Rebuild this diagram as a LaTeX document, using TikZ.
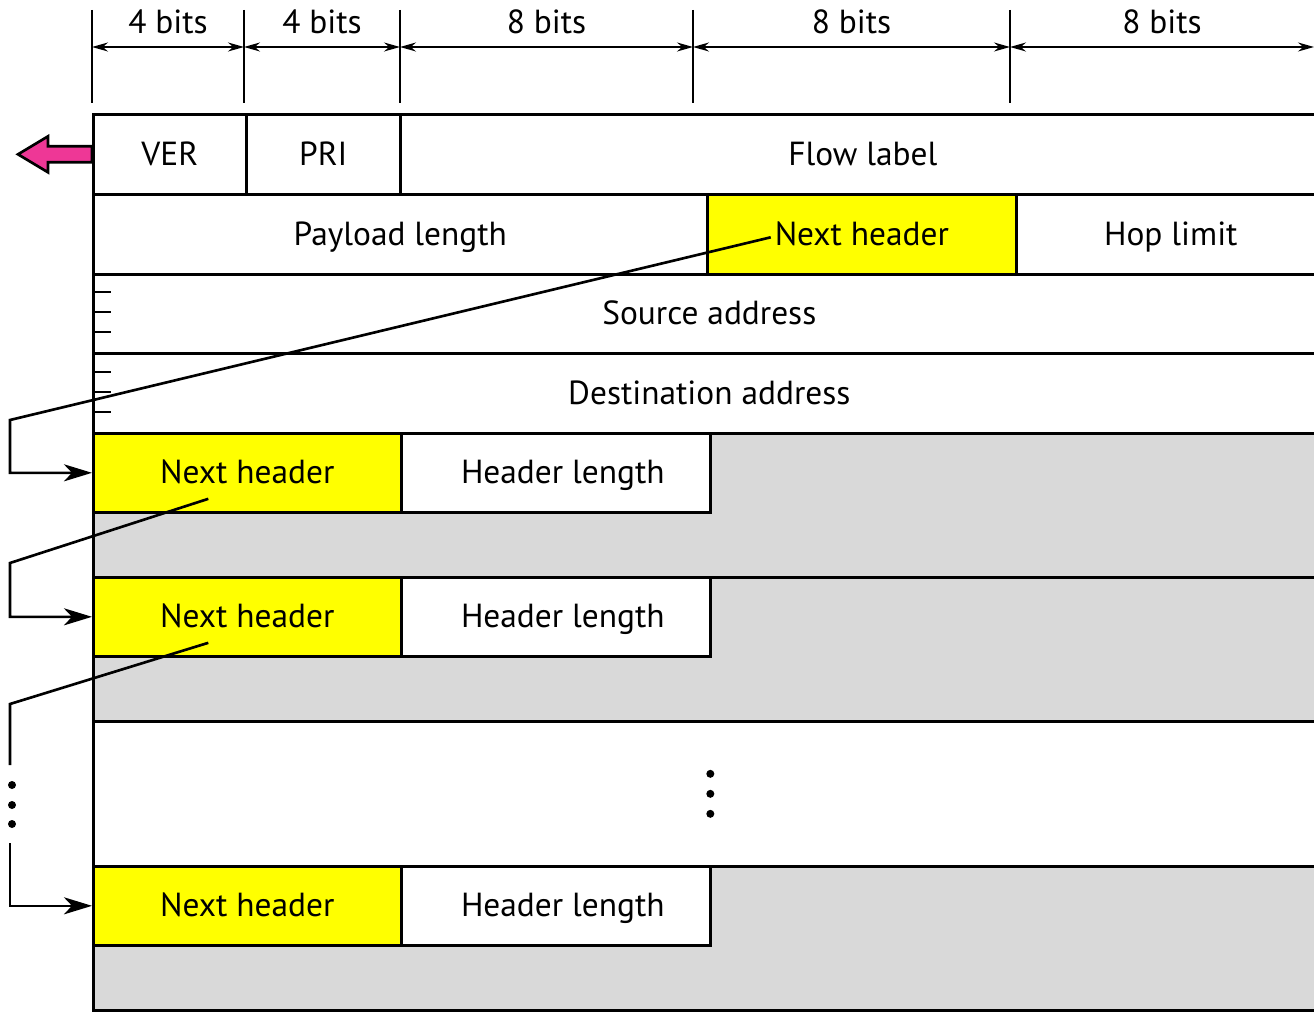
\documentclass[tikz,border=0pt]{standalone}
\usepackage{fontspec}
\setmainfont{PT Sans}
\usetikzlibrary{arrows.meta}
\usetikzlibrary{calc}
\definecolor{hdryellow}{RGB}{255,255,0}
\definecolor{extgray}{RGB}{217,217,217}
\definecolor{outpink}{RGB}{238,55,150}

\begin{document}
\begin{tikzpicture}[x=0.2mm,y=-0.2mm,
	every node/.style={font=\fontsize{19}{21}\selectfont},
	field/.style={draw,line width=1.5pt,inner sep=0pt,anchor=north west,
		text height=12.5pt,text depth=0pt},
	wd/.style={minimum width=#1*0.2mm},
	ht/.style={minimum height=#1*0.2mm},
	dim/.style={line width=0.9pt,{Stealth[length=3.2mm,width=1.8mm]}-{Stealth[length=3.2mm,width=1.8mm]}},
	link/.style={line width=1.5pt,-{Stealth[length=5.6mm,width=3.4mm,inset=1.6mm]}}]
\clip (0,0) rectangle (1314,1012);
\def\railx{10}

%bit widths
\foreach \x [count=\i from 0] in {92,244,400,693,1010,1314}
	\coordinate (t\i) at (\x,47);
\foreach \i in {0,...,4}
	\draw[line width=1pt] (t\i) ++(0,-37) -- ++(0,93);
\foreach \i/\j/\w in {0/1/4,1/2/4,2/3/8,3/4/8,4/5/8}
	\draw[dim] (t\i) -- node[above=1.2mm] {\w\ bits} (t\j);

%base header
\node[field,wd=153,ht=80] (ver) at (92,113) {VER};
\node[field,wd=154,ht=80] (pri) at (245,113) {PRI};
\node[field,wd=925,ht=80] (flow) at (399,113) {Flow label};
\node[field,wd=614,ht=80] (payload) at (92,193) {Payload length};
\node[field,wd=309,ht=80,fill=hdryellow] (nh0) at (706,193) {Next header};
\node[field,wd=309,ht=80] (hop) at (1015,193) {Hop limit};
\node[field,wd=1232,ht=79] (src) at (92,273) {Source address};
\node[field,wd=1232,ht=80] (dst) at (92,352) {Destination address};
\foreach \y in {292,312,332,372,392,412}
	\draw[line width=1.5pt] (92,\y) -- (111,\y);

%outgoing arrow
\draw[line width=1.5pt,fill=outpink] ($(ver.west)+(0,-8)$) -- ++(-44,0) -- ++(0,-10)
	-- ++(-30,18) -- ++(30,18) -- ++(0,-10) -- ++(44,0) -- cycle;

%extension headers
\fill[black!75] (97,1008) rectangle (1324,1016);
\foreach \n/\y in {1/432,2/576,3/865} {
	\node[field,wd=1232,ht=144,fill=extgray] (ext\n) at (92,\y) {};
	\node[field,wd=308,ht=79,fill=hdryellow] (nh\n) at (92,\y) {Next header};
	\node[field,wd=309,ht=79,fill=white] (hl\n) at (400,\y) {\hspace*{8pt}Header length};
}
\node[field,wd=1232,ht=145] (gap) at (92,720) {};
\foreach \d in {-20,0,20}
	\fill ($(gap.center)+(1,\d)$) circle (4);

%chain
\draw[link] ([shift={(-0.8mm,1.6mm)}]nh0.text) -- (\railx,420) |- (nh1.west);
\draw[link] ($(nh1.center)+(-39,26)$) -- (\railx,563) |- (nh2.west);
\coordinate (gapup) at (\railx,765);
\coordinate (gapdown) at (\railx,843);
\draw[line width=1.5pt] ($(nh2.center)+(-39,26)$) -- (\railx,704) -- (gapup);
\foreach \y in {785,805,824}
	\fill (12,\y) circle (4);
\draw[link] (gapdown) |- (nh3.west);
\end{tikzpicture}
\end{document}
